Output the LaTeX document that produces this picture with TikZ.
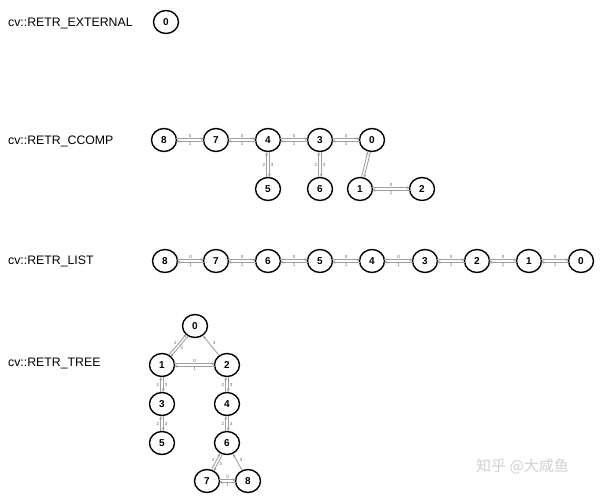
\documentclass[tikz,border=0pt]{standalone}
\usepackage{fontspec}
\setmainfont{Liberation Sans}
\newfontfamily\cjk{Noto Sans CJK SC}
\usetikzlibrary{calc,arrows.meta,shapes.geometric}
\newcommand\dlink[4]{%
  \draw[lk] ($(#1)!1.3pt!90:(#2)$) -- ($(#2)!1.3pt!-90:(#1)$);
  \draw[lk] ($(#2)!1.3pt!90:(#1)$) -- ($(#1)!1.3pt!-90:(#2)$);
  \node[tl] at ($($(#1)!0.5!(#2)$)!4.2pt!90:(#2)$) {#3};
  \node[tl] at ($($(#1)!0.5!(#2)$)!4.2pt!-90:(#2)$) {#4};
}
\newcommand\slink[3]{%
  \draw[lk, shorten <=0pt, shorten >=0pt] (#1) -- (#2);
  \node[tl] at ($($(#1)!0.5!(#2)$)!4.2pt!-90:(#2)$) {#3};
}
\begin{document}
\begin{tikzpicture}[x=1pt,y=-1pt,
  nd/.style={ellipse, draw, line width=1.4pt, minimum width=25pt, minimum height=23pt, inner sep=0pt, font=\bfseries\fontsize{10}{10}\selectfont},
  lbl/.style={anchor=west, inner sep=0pt, font=\fontsize{12.3}{12.3}\selectfont},
  lk/.style={draw=black!38, line width=0.85pt, shorten <=12pt, shorten >=12pt, -{Stealth[length=3.5pt,width=2.8pt]}},
  tl/.style={font=\fontsize{4.5}{4.5}\selectfont, text=black!60, inner sep=0pt}]
\useasboundingbox[fill=white] (0,0) rectangle (607,497);

% labels
\node[lbl] (le) at (8,23) {cv::RETR\_EXTERNAL};
\node[lbl] (lc) at (8,141) {cv::RETR\_CCOMP};
\node[lbl] (ll) at (8,261) {cv::RETR\_LIST};
\node[lbl] (lt) at (8,363) {cv::RETR\_TREE};

% EXTERNAL
\node[nd] (e0) at (166,22) {0};

% CCOMP
\node[nd] (c8) at (164,140) {8};
\node[nd] (c7) at (216,140) {7};
\node[nd] (c4) at (268,140) {4};
\node[nd] (c3) at (320,140) {3};
\node[nd] (c0) at (372,140) {0};
\node[nd] (c5) at (268,189) {5};
\node[nd] (c6) at (320,189) {6};
\node[nd] (c1) at (360,189) {1};
\node[nd] (c2) at (422,189) {2};
\dlink{c8}{c7}{0}{1}
\dlink{c7}{c4}{0}{1}
\dlink{c4}{c3}{0}{1}
\dlink{c3}{c0}{0}{1}
\dlink{c4}{c5}{3}{2}
\dlink{c3}{c6}{3}{2}
\dlink{c0}{c1}{}{}
\dlink{c1}{c2}{0}{1}

% LIST
\node[nd] (l8) at (165,261) {8};
\node[nd] (l7) at (216,261) {7};
\node[nd] (l6) at (268,261) {6};
\node[nd] (l5) at (320,261) {5};
\node[nd] (l4) at (372,261) {4};
\node[nd] (l3) at (425,261) {3};
\node[nd] (l2) at (477,261) {2};
\node[nd] (l1) at (529,261) {1};
\node[nd] (l0) at (581,261) {0};
\dlink{l8}{l7}{0}{1}
\dlink{l7}{l6}{0}{1}
\dlink{l6}{l5}{0}{1}
\dlink{l5}{l4}{0}{1}
\dlink{l4}{l3}{0}{1}
\dlink{l3}{l2}{0}{1}
\dlink{l2}{l1}{0}{1}
\dlink{l1}{l0}{0}{1}

% TREE
\node[nd] (t0) at (195,326) {0};
\node[nd] (t1) at (162,365) {1};
\node[nd] (t2) at (227,365) {2};
\node[nd] (t3) at (162,404) {3};
\node[nd] (t4) at (227,404) {4};
\node[nd] (t5) at (162,443) {5};
\node[nd] (t6) at (227,443) {6};
\node[nd] (t7) at (207,481) {7};
\node[nd] (t8) at (248,481) {8};
\dlink{t0}{t1}{3}{2}
\slink{t2}{t0}{3}
\dlink{t1}{t2}{0}{1}
\dlink{t1}{t3}{3}{2}
\dlink{t2}{t4}{3}{2}
\dlink{t3}{t5}{3}{2}
\dlink{t4}{t6}{3}{2}
\dlink{t6}{t7}{3}{2}
\slink{t8}{t6}{3}
\dlink{t7}{t8}{0}{1}

% watermark
\node[text=black!18, font=\cjk\fontsize{15}{15}\selectfont, anchor=west, inner sep=0pt] (wm) at (476,466) {知乎 @大咸鱼};
\end{tikzpicture}
\end{document}
